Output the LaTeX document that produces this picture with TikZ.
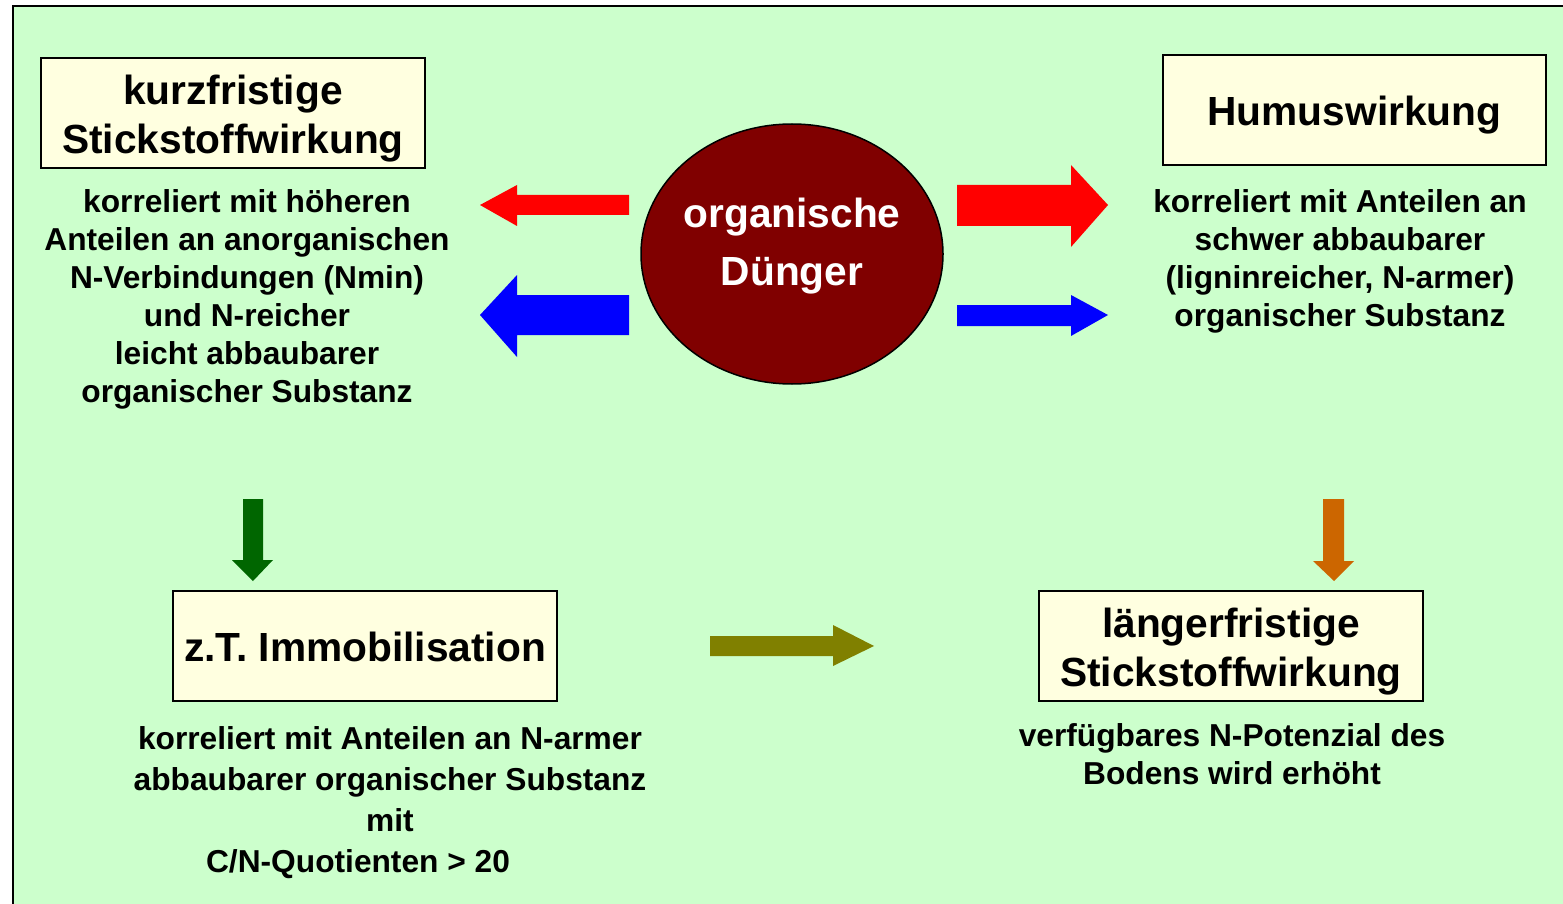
\documentclass[tikz,border=0pt]{standalone}
\usepackage{fontspec}
\setmainfont{Liberation Sans}
\usetikzlibrary{shapes.geometric}
\definecolor{bgc}{RGB}{204,255,204}
\definecolor{boxc}{RGB}{255,255,224}
\definecolor{ellc}{RGB}{128,0,0}
\definecolor{redc}{RGB}{255,0,0}
\definecolor{bluec}{RGB}{0,0,255}
\definecolor{greenc}{RGB}{0,102,0}
\definecolor{olivec}{RGB}{128,128,0}
\definecolor{orangec}{RGB}{204,102,0}
\newcommand{\topstrut}[1]{\rule{0pt}{#1}}
\begin{document}
\begin{tikzpicture}[x=1pt,y=-1pt,
  titlebox/.style={draw=black, line width=1.5pt, fill=boxc, minimum width=384pt, minimum height=110pt,
    inner sep=0pt, outer sep=0pt, align=center, font=\bfseries\fontsize{40.7}{49}\selectfont},
  body/.style={anchor=base, inner sep=0pt, outer sep=0pt, font=\bfseries\fontsize{31.7}{38}\selectfont},
  bodywide/.style={anchor=base, inner sep=0pt, outer sep=0pt, font=\bfseries\fontsize{31.7}{41.3}\selectfont},
  elltext/.style={anchor=base, inner sep=0pt, outer sep=0pt, text=white, font=\bfseries\fontsize{40.7}{58}\selectfont}]
\useasboundingbox (0,0) rectangle (1563,904);
\fill[bgc] (13,6) rectangle (1563,904);
\draw[line width=2pt, black] (13,904) -- (13,6) -- (1563,6);

% boxes
\node[titlebox] (kurz) at (233,113) {\topstrut{40pt}kurzfristige\\Stickstoffwirkung};
\node[titlebox, minimum width=383pt] (humus) at (1354.5,110) {\topstrut{39.5pt}Humuswirkung};
\node[titlebox] (immo) at (365,646) {\topstrut{31pt}z.T. Immobilisation};
\node[titlebox] (laeng) at (1231,646) {\topstrut{40pt}längerfristige\\Stickstoffwirkung};

% ellipse
\node[ellipse, draw=black, line width=1.5pt, fill=ellc, minimum width=302pt, minimum height=260pt, inner sep=0pt] (dung) at (792,254) {};
\node[elltext] (dungtext) at (792,228) {\begin{tabular}[t]{@{}c@{}}organische\\Dünger\end{tabular}};

% body texts
\node[body] (kurztext) at (247,212) {\begin{tabular}[t]{@{}c@{}}korreliert mit höheren\\Anteilen an anorganischen\\N-Verbindungen (Nmin)\\und N-reicher\\leicht abbaubarer\\organischer Substanz\end{tabular}};
\node[body] (humustext) at (1340,212) {\begin{tabular}[t]{@{}c@{}}korreliert mit Anteilen an\\schwer abbaubarer\\(ligninreicher, N-armer)\\organischer Substanz\end{tabular}};
\node[bodywide] (immotext) at (390,749) {\begin{tabular}[t]{@{}c@{}}korreliert mit Anteilen an N-armer\\abbaubarer organischer Substanz\\mit\\C/N-Quotienten > 20\hspace*{64pt}\end{tabular}};
\node[body] (laengtext) at (1232,746) {\begin{tabular}[t]{@{}c@{}}verfügbares N-Potenzial des\\Bodens wird erhöht\end{tabular}};

% block arrows
\fill[redc] (629,195) -- (517,195) -- (517,185) -- (480,205) -- (517,226) -- (517,215) -- (629,215) -- cycle;
\fill[bluec] (629,295) -- (517,295) -- (517,275) -- (480,315) -- (517,357) -- (517,335) -- (629,335) -- cycle;
\fill[redc] (957,185) -- (1071,185) -- (1071,165) -- (1108,205) -- (1071,247) -- (1071,226) -- (957,226) -- cycle;
\fill[bluec] (957,305) -- (1071,305) -- (1071,295) -- (1108,315) -- (1071,336) -- (1071,326) -- (957,326) -- cycle;
\fill[greenc] (243,499) -- (263,499) -- (263,560) -- (273,560) -- (253,581) -- (232,560) -- (243,560) -- cycle;
\fill[olivec] (710,636) -- (833,636) -- (833,625) -- (874,646) -- (833,666) -- (833,656) -- (710,656) -- cycle;
\fill[orangec] (1323,499) -- (1344,499) -- (1344,561) -- (1354,561) -- (1334,581) -- (1313,561) -- (1323,561) -- cycle;
\end{tikzpicture}
\end{document}
